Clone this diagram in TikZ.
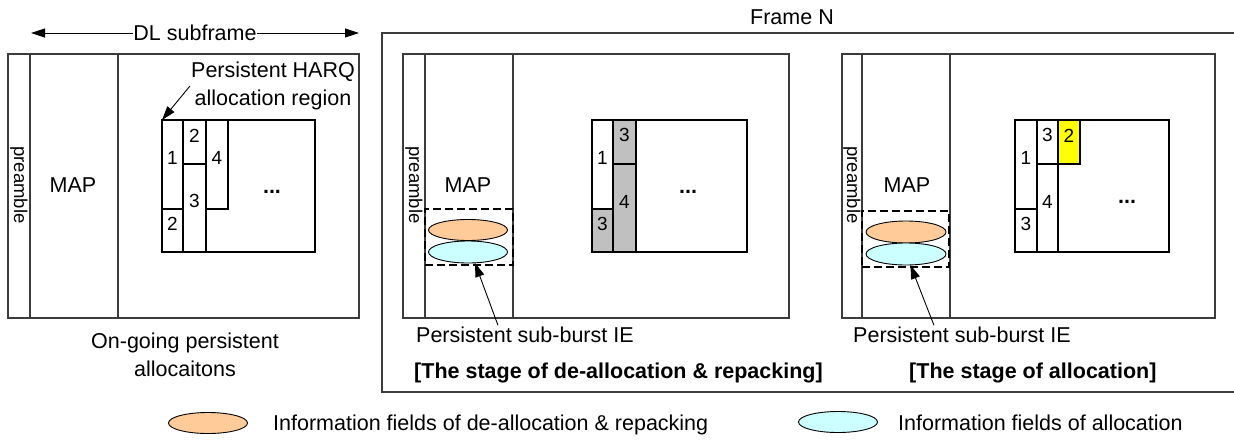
\documentclass[tikz,border=0pt]{standalone}
\usepackage{fontspec}
\setmainfont{Liberation Sans}
\usetikzlibrary{shapes.geometric,arrows.meta,fit}
\definecolor{peach}{RGB}{255,204,153}
\definecolor{lcyan}{RGB}{204,255,255}
\definecolor{blkgray}{RGB}{192,192,192}
\definecolor{lnclr}{RGB}{60,60,60}
\definecolor{ylw}{RGB}{255,255,0}
\begin{document}
\begin{tikzpicture}[x=1pt,y=-1pt,
  txt/.style={font=\fontsize{21.5}{28}\selectfont, inner sep=1pt},
  btxt/.style={font=\fontsize{21.5}{28}\selectfont\bfseries, inner sep=1pt},
  pre/.style={font=\fontsize{18.5}{22}\selectfont, rotate=-90, inner sep=0pt},
  frm/.style={draw=lnclr, line width=1.2pt},
  blk/.style={draw=black, line width=2.8pt, inner sep=0pt, outer sep=0pt, font=\fontsize{19}{22}\selectfont},
  dotsn/.style={font=\fontsize{21.5}{28}\selectfont\bfseries, inner sep=0pt},
  dashbox/.style={draw=black, line width=1.5pt, dash pattern=on 8pt off 4pt, inner sep=0pt},
  ell/.style={ellipse, draw=black, line width=0.9pt, minimum width=79pt, minimum height=21pt, inner sep=0pt},
  arr/.style={draw=black, line width=0.9pt, -{Triangle[length=14pt,width=9pt]}},
]
\useasboundingbox (0,0) rectangle (1234,439);

% ---------- DL subframe header ----------
\node[txt, inner sep=0pt] (dl) at (195,33) {DL subframe};
\coordinate (dlL) at (31,33);
\coordinate (dlR) at (359,33);
\draw[arr] (dl.west) -- (dlL);
\draw[arr] (dl.east) -- (dlR);

% ---------- Frame N ----------
\node[txt] (frameN) at (792,17) {Frame N};
\draw[frm] (1234,33) -- (382,33) -- (382,392) -- (1234,392);

% ---------- Left panel ----------
\draw[frm] (8,54) rectangle (359,318);
\draw[frm] (30,54) -- (30,318);
\draw[frm] (118,54) -- (118,318);
\node[pre] (preL) at (19,185) {preamble};
\node[txt] (mapL) at (73,185) {MAP};
\node[blk, fit={(162,120) (183,209)}] (L1) {1};
\node[blk, fit={(162,209) (183,252)}] (L2b) {2};
\node[blk, fit={(183,120) (206,164)}] (L2t) {2};
\node[blk, fit={(183,164) (206,252)}] (L3) {3};
\node[blk, fit={(206,120) (228,209)}] (L4) {4};
\node[blk, fit={(162,120) (315,252)}] (Lh) {};
\node[dotsn, anchor=base] (Ld) at (272,193) {...};
\node[txt, align=center] (harq) at (273,86) {Persistent HARQ\\allocation region};
\draw[arr] (harq.west) -- (Lh.north west);
\node[txt, align=center] (ongo) at (185,355) {On-going persistent\\allocaitons};

% ---------- Middle panel ----------
\draw[frm] (403,54) rectangle (789,318);
\draw[frm] (425,54) -- (425,318);
\draw[frm] (513,54) -- (513,318);
\node[pre] (preM) at (414,185) {preamble};
\node[txt] (mapM) at (468,185) {MAP};
\node[blk, fit={(592,120) (613,209)}] (M1) {1};
\node[blk, fill=blkgray, fit={(592,209) (613,252)}] (M3b) {3};
\node[blk, fill=blkgray, fit={(613,120) (636,164)}] (M3t) {3};
\node[blk, fill=blkgray, fit={(613,164) (636,252)}] (M4) {4};
\node[blk, fit={(592,120) (747,252)}] (Mh) {};
\node[dotsn, anchor=base] (Md) at (688,193) {...};
\node[dashbox, fit={(425,209) (513,265)}] (D1) {};
\node[ell, fill=peach] (O1) at (468,230) {};
\node[ell, fill=lcyan, minimum height=22pt] (C1) at (468,252) {};
\node[txt, anchor=base west] (sb1) at (415,342) {Persistent sub-burst IE};
\draw[arr, shorten >=-3pt] ([xshift=-27pt]sb1.north) -- ([xshift=7pt]D1.south);
\node[btxt, anchor=base west] (st1) at (413,378) {[The stage of de-allocation \& repacking]};

% ---------- Right panel ----------
\draw[frm] (842,54) rectangle (1215,318);
\draw[frm] (862,54) -- (862,318);
\draw[frm] (950,54) -- (950,318);
\node[pre] (preR) at (852,185) {preamble};
\node[txt] (mapR) at (907,185) {MAP};
\node[blk, fit={(1015,120) (1037,209)}] (R1) {1};
\node[blk, fit={(1015,209) (1037,252)}] (R3b) {3};
\node[blk, fit={(1037,120) (1058,164)}] (R3t) {3};
\node[blk, fit={(1037,164) (1058,252)}] (R4) {4};
\node[blk, fill=ylw, fit={(1058,120) (1080,164)}] (R2) {2};
\node[blk, fit={(1015,120) (1169,252)}] (Rh) {};
\node[dotsn, anchor=base] (Rd) at (1127,203) {...};
\node[dashbox, fit={(862,211) (949,267)}] (D2) {};
\node[ell, fill=peach, minimum width=80pt, minimum height=22pt] (O2) at (906,232) {};
\node[ell, fill=lcyan, minimum width=80pt, minimum height=22pt] (C2) at (906,254) {};
\node[txt, anchor=base west] (sb2) at (852,342) {Persistent sub-burst IE};
\draw[arr, shorten >=-3pt] ([xshift=-28pt]sb2.north) -- ([xshift=6pt]D2.south);
\node[btxt, anchor=base west] (st2) at (908,378) {[The stage of allocation]};

% ---------- Legend ----------
\node[ell, fill=peach] (legO) at (208,423) {};
\node[txt, anchor=base west] (legOt) at (272,430) {Information fields of de-allocation \& repacking};
\node[ell, fill=lcyan] (legC) at (838,422) {};
\node[txt, anchor=base west] (legCt) at (897,430) {Information fields of allocation};
\end{tikzpicture}
\end{document}
